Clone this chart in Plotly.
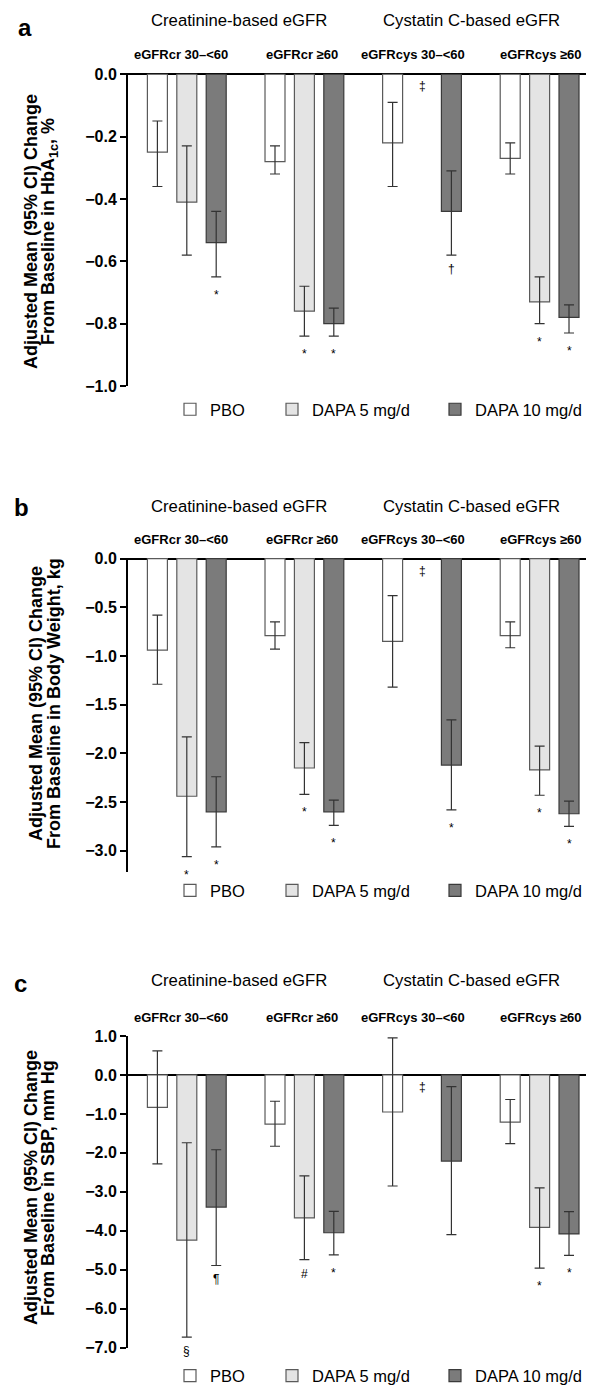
import plotly.graph_objects as go

# ---------------- data ----------------
groups = ["eGFRcr 30\u2013<60", "eGFRcr \u226560", "eGFRcys 30\u2013<60", "eGFRcys \u226560"]
treatments = ["PBO", "DAPA 5 mg/d", "DAPA 10 mg/d"]
headers = ["Creatinine-based eGFR", "Cystatin C-based eGFR"]
panel_letters = ["a", "b", "c"]

# Panel a: HbA1c (%)
a_pbo = [-0.25, -0.28, -0.22, -0.27]
a_pbo_lo = [-0.36, -0.32, -0.36, -0.32]
a_pbo_hi = [-0.15, -0.23, -0.09, -0.22]
a_d5 = [-0.41, -0.76, None, -0.73]
a_d5_lo = [-0.58, -0.84, None, -0.80]
a_d5_hi = [-0.23, -0.68, None, -0.65]
a_d10 = [-0.54, -0.80, -0.44, -0.78]
a_d10_lo = [-0.65, -0.84, -0.58, -0.83]
a_d10_hi = [-0.44, -0.75, -0.31, -0.74]
a_marks = [["", "", "", ""], ["", "*", "\u2021", "*"], ["*", "*", "\u2020", "*"]]
a_ticks = [0.0, -0.2, -0.4, -0.6, -0.8, -1.0]

# Panel b: body weight (kg)
b_pbo = [-0.94, -0.79, -0.85, -0.79]
b_pbo_lo = [-1.29, -0.93, -1.32, -0.915]
b_pbo_hi = [-0.58, -0.65, -0.38, -0.65]
b_d5 = [-2.44, -2.15, None, -2.17]
b_d5_lo = [-3.06, -2.42, None, -2.43]
b_d5_hi = [-1.83, -1.89, None, -1.925]
b_d10 = [-2.60, -2.60, -2.12, -2.62]
b_d10_lo = [-2.96, -2.74, -2.58, -2.75]
b_d10_hi = [-2.24, -2.48, -1.655, -2.49]
b_marks = [["", "", "", ""], ["*", "*", "\u2021", "*"], ["*", "*", "*", "*"]]
b_ticks = [0.0, -0.5, -1.0, -1.5, -2.0, -2.5, -3.0]

# Panel c: SBP (mm Hg)
c_pbo = [-0.83, -1.26, -0.95, -1.21]
c_pbo_lo = [-2.28, -1.83, -2.85, -1.76]
c_pbo_hi = [0.62, -0.675, 0.95, -0.63]
c_d5 = [-4.24, -3.67, None, -3.91]
c_d5_lo = [-6.73, -4.74, None, -4.96]
c_d5_hi = [-1.74, -2.59, None, -2.90]
c_d10 = [-3.39, -4.05, -2.21, -4.08]
c_d10_lo = [-4.89, -4.62, -4.10, -4.63]
c_d10_hi = [-1.92, -3.50, -0.30, -3.51]
c_marks = [["", "", "", ""], ["\u00a7", "#", "\u2021", "*"], ["\u00b6", "*", "", "*"]]
c_ticks = [1.0, 0.0, -1.0, -2.0, -3.0, -4.0, -5.0, -6.0, -7.0]

titles = [
    ["Adjusted Mean (95% CI) Change", "From Baseline in HbA<sub>1c</sub>, %"],
    ["Adjusted Mean (95% CI) Change", "From Baseline in Body Weight, kg"],
    ["Adjusted Mean (95% CI) Change", "From Baseline in SBP, mm Hg"],
]

panels = [
    dict(mean=[a_pbo, a_d5, a_d10], lo=[a_pbo_lo, a_d5_lo, a_d10_lo], hi=[a_pbo_hi, a_d5_hi, a_d10_hi],
         marks=a_marks, ticks=a_ticks),
    dict(mean=[b_pbo, b_d5, b_d10], lo=[b_pbo_lo, b_d5_lo, b_d10_lo], hi=[b_pbo_hi, b_d5_hi, b_d10_hi],
         marks=b_marks, ticks=b_ticks),
    dict(mean=[c_pbo, c_d5, c_d10], lo=[c_pbo_lo, c_d5_lo, c_d10_lo], hi=[c_pbo_hi, c_d5_hi, c_d10_hi],
         marks=c_marks, ticks=c_ticks),
]

# ---------------- layout / style ----------------
# The page body has an 8 px default margin: figure is sized to fill the rest of the window.
OFF = 8
PAGE_W, PAGE_H = 594, 1387
W, H = PAGE_W - OFF, PAGE_H - OFF
FONT = "Liberation Sans, Arial, Helvetica, sans-serif"
fills = ["#ffffff", "#e4e4e4", "#7b7b7b"]
outlines = ["#5a5a5a", "#5a5a5a", "#3a3a3a"]

# positions below are in page pixels
geo = [
    dict(top=73, bot=386, rng=[-1.0, 0.004], title_x=[31, 49], title_y=232,
         letter=(25, 28), head_y=21, sub_y=54, leg_y=409.5),
    dict(top=557.7, bot=871.7, rng=[-3.215, 0.01], title_x=[36, 54], title_y=704,
         letter=(21, 507), head_y=506, sub_y=539, leg_y=890.7),
    dict(top=1036, bot=1347.7, rng=[-7.0, 1.0], title_x=[31, 48], title_y=1188,
         letter=(20, 983), head_y=980, sub_y=1017, leg_y=1376),
]
head_x = [239, 471]
sub_x = [181, 302, 413, 541]
leg_box_x = [180, 282, 445]

def px(x):
    return (x - OFF) / W

def py(y):
    return 1 - (y - OFF) / H

fig = go.Figure()
annotations = []
layout = dict(
    width=W, height=H, margin=dict(l=0, r=0, t=0, b=0, autoexpand=False),
    paper_bgcolor="white", plot_bgcolor="white",
    barmode="overlay", font=dict(family=FONT, color="black"),
)

for p, panel in enumerate(panels):
    g = geo[p]
    sfx = "" if p == 0 else str(p + 1)
    xa, ya = "x" + sfx, "y" + sfx
    for k, t in enumerate(treatments):
        xs = [4 * gi + k for gi in range(len(groups))]
        m, lo, hi = panel["mean"][k], panel["lo"][k], panel["hi"][k]
        up = [None if v is None else h - v for v, h in zip(m, hi)]
        dn = [None if v is None else v - l for v, l in zip(m, lo)]
        leg_idx = p * 3 + k
        leg_name = "legend" if leg_idx == 0 else "legend%d" % (leg_idx + 1)
        fig.add_trace(go.Bar(
            x=xs, y=m, width=0.68, name=t,
            marker=dict(color=fills[k], line=dict(color=outlines[k], width=1.2)),
            error_y=dict(type="data", symmetric=False, array=up, arrayminus=dn,
                         color="#333333", thickness=1.2, width=5),
            xaxis=xa, yaxis=ya, legend=leg_name, showlegend=True,
            hoverinfo="skip",
        ))
        layout[leg_name] = dict(
            orientation="h", x=px(leg_box_x[k] - 10), y=py(g["leg_y"]),
            xref="container", yref="container",
            xanchor="left", yanchor="middle", bgcolor="rgba(0,0,0,0)",
            font=dict(family=FONT, size=16.5, color="black"),
        )
        for gi, mark in enumerate(panel["marks"][k]):
            if not mark:
                continue
            if m[gi] is None:
                annotations.append(dict(x=xs[gi], y=0, xref=xa, yref=ya, text=mark,
                                        showarrow=False, yanchor="middle", yshift=-12,
                                        font=dict(family=FONT, size=12, color="black")))
            else:
                shift = -18 if mark == "*" else -14
                annotations.append(dict(x=xs[gi], y=lo[gi], xref=xa, yref=ya, text=mark,
                                        showarrow=False, yanchor="middle", yshift=shift,
                                        font=dict(family=FONT, size=12, color="black")))

    layout["xaxis" + sfx] = dict(domain=[px(128), 1.0], range=[-1, 14.85], visible=False,
                                 anchor=ya, fixedrange=True)
    layout["yaxis" + sfx] = dict(
        domain=[py(g["bot"]), py(g["top"])], range=g["rng"], anchor=xa,
        tickvals=panel["ticks"], tickformat=".1f", ticks="outside", ticklen=6,
        tickwidth=1.5, tickcolor="black", showline=True, linewidth=2, linecolor="black",
        showgrid=False, zeroline=True, zerolinecolor="black", zerolinewidth=1.5,
        tickfont=dict(family=FONT, size=16, color="black", weight="bold"),
    )
    for li, line in enumerate(titles[p]):
        annotations.append(dict(x=px(g["title_x"][li]), y=py(g["title_y"]), xref="paper", yref="paper",
                                text=line, textangle=-90, showarrow=False,
                                xanchor="center", yanchor="middle",
                                font=dict(family=FONT, size=18, color="black", weight="bold")))
    annotations.append(dict(x=px(g["letter"][0]), y=py(g["letter"][1]), xref="paper", yref="paper",
                            text=panel_letters[p], showarrow=False, xanchor="center", yanchor="middle",
                            font=dict(family=FONT, size=24, color="black", weight="bold")))
    for hi_, htxt in enumerate(headers):
        annotations.append(dict(x=px(head_x[hi_]), y=py(g["head_y"]), xref="paper", yref="paper",
                                text=htxt, showarrow=False, xanchor="center", yanchor="middle",
                                font=dict(family=FONT, size=16.7, color="black")))
    for gi, gtxt in enumerate(groups):
        annotations.append(dict(x=px(sub_x[gi]), y=py(g["sub_y"]), xref="paper", yref="paper",
                                text=gtxt, showarrow=False, xanchor="center", yanchor="middle",
                                font=dict(family=FONT, size=13, color="black", weight="bold")))

layout["annotations"] = annotations
fig.update_layout(**layout)
fig.write_html("out.html")
